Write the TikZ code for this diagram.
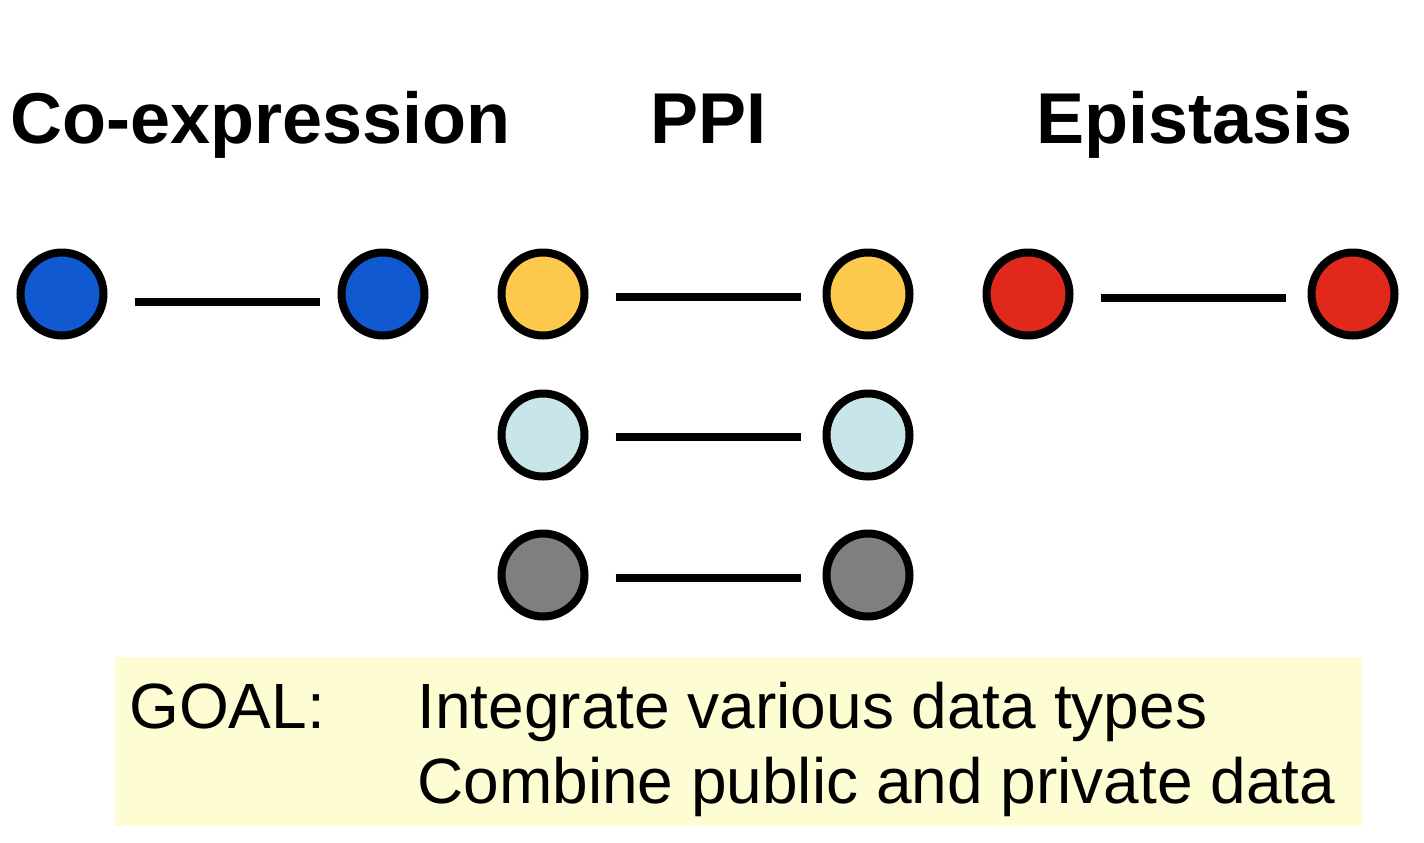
\documentclass[tikz,border=0pt]{standalone}
\usepackage{fontspec}
\setmainfont{Liberation Sans}
\definecolor{coexblue}{HTML}{1059D0}
\definecolor{ppiyellow}{HTML}{FCC94C}
\definecolor{ppicyan}{HTML}{C8E6E9}
\definecolor{ppigray}{HTML}{7F7F7F}
\definecolor{epired}{HTML}{E0291A}
\definecolor{goalbg}{HTML}{FEFCD2}
\begin{document}
\begin{tikzpicture}[x=0.5pt,y=-0.5pt,
	dot/.style={circle,draw=black,line width=4pt,minimum size=41.5pt,inner sep=0pt},
	link/.style={line width=4pt,shorten <=13.5pt,shorten >=11pt},
	heading/.style={font=\bfseries\fontsize{36}{40}\selectfont,inner sep=0pt,anchor=base west},
	goaltext/.style={font=\fontsize{32}{37}\selectfont,inner sep=0pt,anchor=base west}]
	\useasboundingbox (0,0) rectangle (1424,842);
	% headings
	\node[heading] (hcoex) at (10,143) {Co-expression};
	\node[heading] (hppi) at (650,143) {PPI};
	\node[heading] (hepi) at (1036,143) {Epistasis};
	% interaction pairs
	\node[dot,fill=coexblue] (co1) at (62,294) {};
	\node[dot,fill=coexblue] (co2) at (383,294) {};
	\node[dot,fill=ppiyellow] (pa1) at (543,294) {};
	\node[dot,fill=ppiyellow] (pa2) at (868,294) {};
	\node[dot,fill=ppicyan] (pb1) at (543,435) {};
	\node[dot,fill=ppicyan] (pb2) at (868,435) {};
	\node[dot,fill=ppigray] (pc1) at (543,575) {};
	\node[dot,fill=ppigray] (pc2) at (868,575) {};
	\node[dot,fill=epired] (ep1) at (1028,294) {};
	\node[dot,fill=epired] (ep2) at (1353,294) {};
	\path[link]
	([yshift=-4pt]co1.east) edge[shorten >=9pt] ([yshift=-4pt]co2.west)
	([yshift=-1.5pt]pa1.east) edge ([yshift=-1.5pt]pa2.west)
	([yshift=-1pt]pb1.east) edge ([yshift=-1pt]pb2.west)
	([yshift=-1.5pt]pc1.east) edge ([yshift=-1.5pt]pc2.west)
	([yshift=-2pt]ep1.east) edge ([yshift=-2pt]ep2.west);
	% goal box
	\fill[goalbg] (115,657) rectangle (1362,826);
	\node[goaltext] (goal) at (129,728) {GOAL:};
	\node[goaltext] (goal1) at (417,728) {Integrate various data types};
	\node[goaltext] (goal2) at (417,803) {Combine public and private data};
\end{tikzpicture}
\end{document}
